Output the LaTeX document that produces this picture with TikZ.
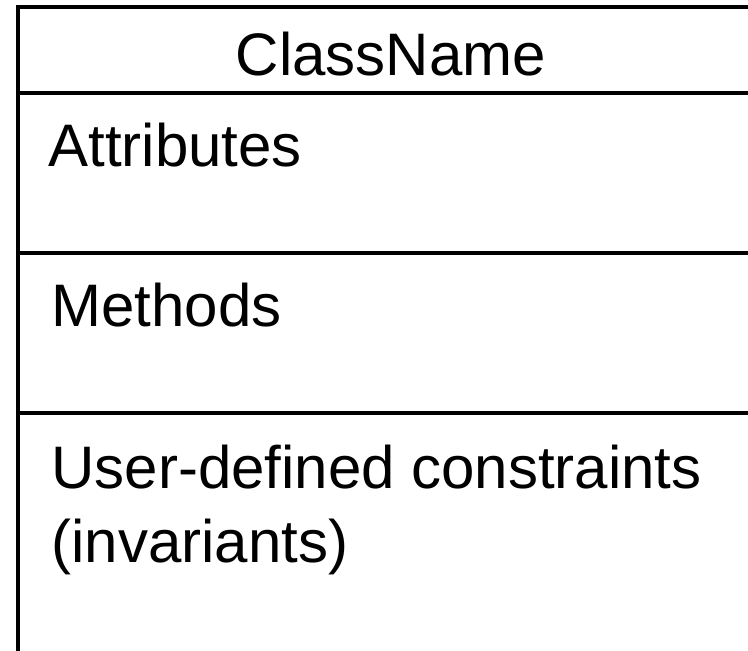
\documentclass[tikz,border=0pt]{standalone}
\usepackage{fontspec}
\setmainfont{Liberation Sans}
\usetikzlibrary{positioning}
\tikzset{
	frame/.style={line width=2pt,line cap=rect},
	title/.style={anchor=base,inner sep=0pt,font=\fontsize{30}{37}\selectfont},
	entry/.style={anchor=base west,inner sep=0pt,align=left,font=\fontsize{30}{37}\selectfont}
}
\begin{document}
\begin{tikzpicture}[x=0.5pt,y=-0.5pt]
			\useasboundingbox (0,0) rectangle (748,651);
			\clip (0,0) rectangle (748,651);
			\draw[frame] (18,7) rectangle (750,652.5);
			\draw[frame] (18,93) -- (750,93);
			\draw[frame] (18,253) -- (750,253);
			\draw[frame] (18,413) -- (750,413);
			\node[title] (cls) at (391,76) {ClassName};
			\node[entry] (attr) at (48,167) {Attributes};
			\node[entry] (meth) at (51,327) {Methods};
			\node[entry] (inv) at (51,562) {User-defined constraints\\(invariants)};
		\end{tikzpicture}
\end{document}
